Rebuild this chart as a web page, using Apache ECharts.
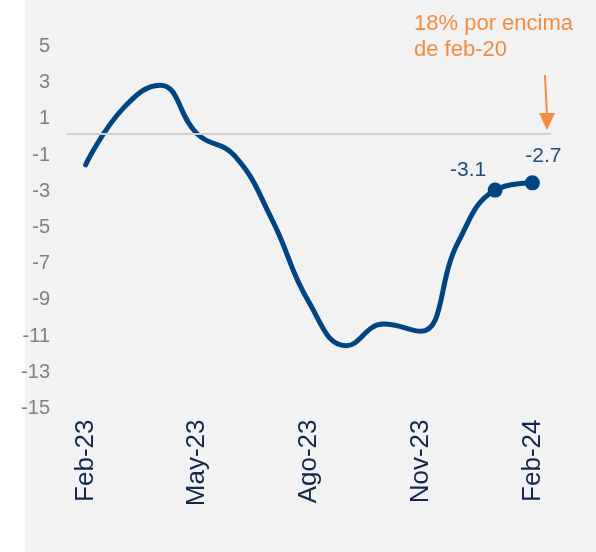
<!DOCTYPE html>
<html>
<head>
<meta charset="utf-8">
<script src="https://cdn.jsdelivr.net/npm/echarts@6/dist/echarts.min.js"></script>
<style>
  html, body { margin: 0; padding: 0; background: #fff; }
  #chart { width: 596px; height: 552px; }
</style>
</head>
<body>
<div id="chart"></div>
<script>
// meses y valores (variación, %)
const months = ['Feb-23', 'Mar-23', 'Abr-23', 'May-23', 'Jun-23', 'Jul-23', 'Ago-23',
  'Sep-23', 'Oct-23', 'Nov-23', 'Dic-23', 'Ene-24', 'Feb-24'];
const values = [-1.7, 1.4, 2.7, 0.0, -1.2, -4.7, -9.3, -11.7, -10.5, -10.9, -6.0, -3.1, -2.7];
const markedIdx = [11, 12];   // puntos con marcador y etiqueta
const note = ['18% por encima', 'de feb-20'];

const navy = '#004481';
const orange = '#f58b40';
const font = 'Liberation Sans, Arial';

const myChart = echarts.init(document.getElementById('chart'));

const seriesData = values.map((v, i) => {
  if (markedIdx.indexOf(i) < 0) return { value: v, symbol: 'none' };
  return {
    value: v,
    symbol: 'circle',
    symbolSize: 15,
    label: {
      show: true,
      position: 'top',
      distance: 8,
      offset: i === 11 ? [-27, 6] : [11, -1],
      color: '#1f4e79',
      fontSize: 21,
      fontFamily: font,
      formatter: (p) => p.value.toFixed(1)
    }
  };
});

myChart.setOption({
  backgroundColor: '#fff',
  animation: false,
  graphic: [
    { type: 'rect', z: -10, shape: { x: 25, y: 0, width: 571, height: 552 }, style: { fill: '#f2f2f2' } },
    { type: 'text', right: 23, top: 11, style: { text: note.join('\n'), fill: orange, fontSize: 22,
        fontFamily: font, align: 'right', lineHeight: 26 } },
    { type: 'line', shape: { x1: 545, y1: 75, x2: 547, y2: 116 }, style: { stroke: orange, lineWidth: 2 } },
    { type: 'polygon', shape: { points: [[539, 113], [555, 113], [547, 130]] }, style: { fill: orange } }
  ],
  grid: { left: 67, right: 45, top: 43.5, bottom: 146.5, containLabel: false },
  xAxis: {
    type: 'category',
    data: months,
    boundaryGap: true,
    axisLine: { show: false },
    axisTick: { show: false },
    axisLabel: {
      interval: 2,
      rotate: 90,
      margin: 14,
      color: '#13284a',
      fontSize: 26,
      fontFamily: font
    }
  },
  yAxis: {
    type: 'value',
    min: -15,
    max: 5,
    interval: 2,
    splitLine: { show: false },
    axisLine: { show: false },
    axisTick: { show: false },
    axisLabel: {
      margin: 17,
      verticalAlign: 'top',
      lineHeight: 6,
      color: '#808080',
      fontSize: 20,
      fontFamily: font
    }
  },
  series: [{
    type: 'line',
    data: seriesData,
    smooth: 0.45,
    lineStyle: { color: navy, width: 5, cap: 'round' },
    itemStyle: { color: navy },
    markLine: {
      silent: true,
      symbol: 'none',
      label: { show: false },
      lineStyle: { color: '#d0d0d0', width: 2, type: 'solid' },
      data: [{ yAxis: 0 }]
    },
    z: 3
  }]
});
</script>
</body>
</html>
